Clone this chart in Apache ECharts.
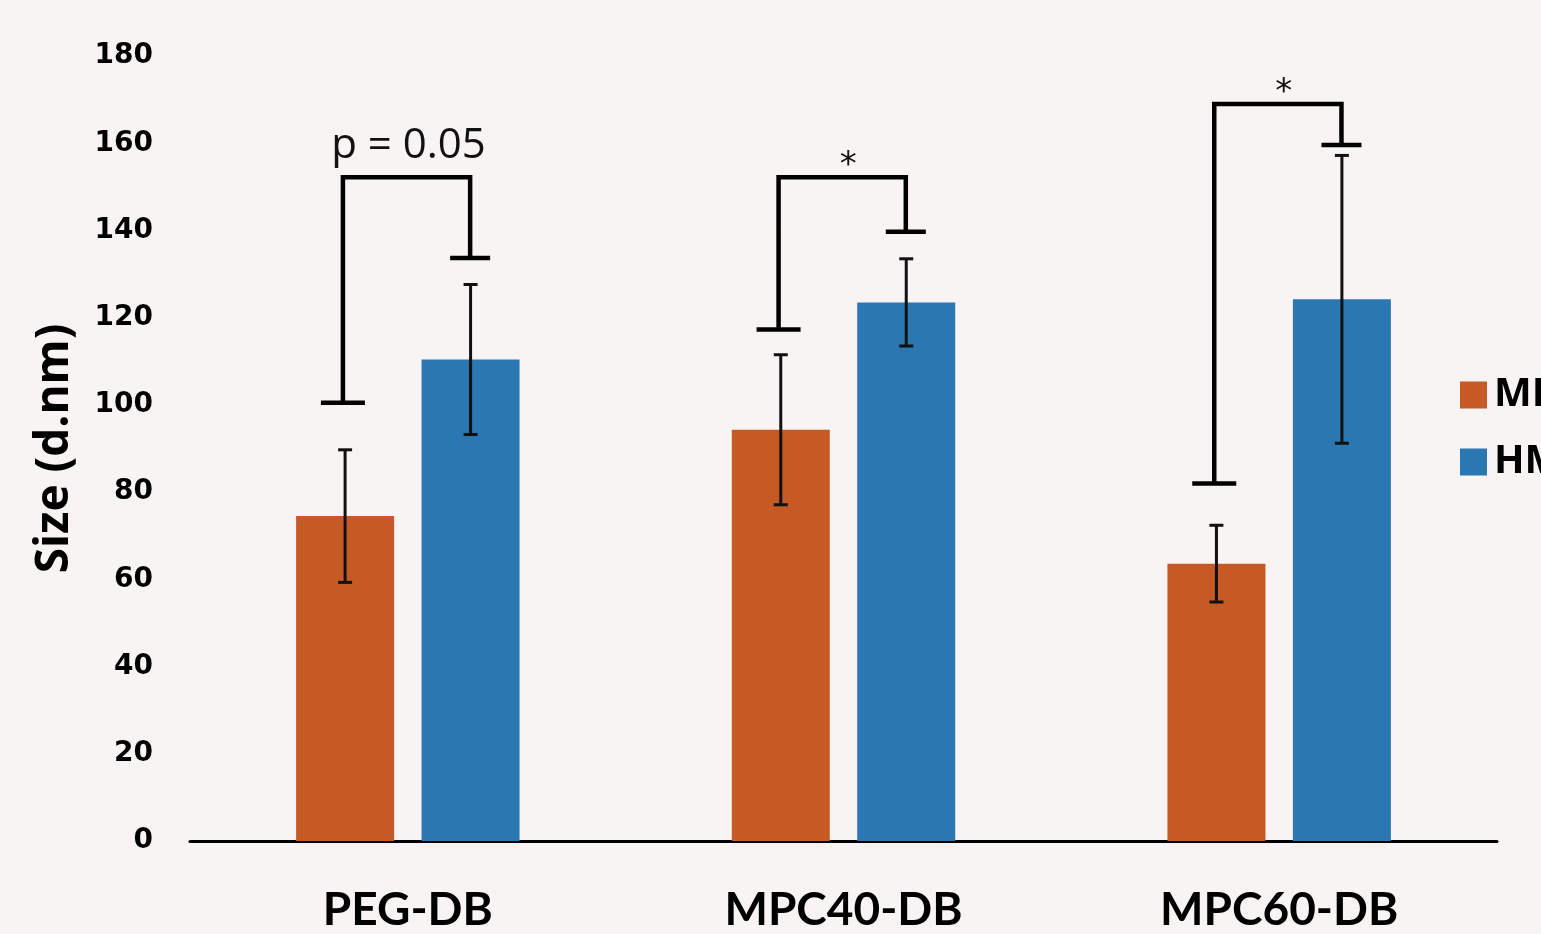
<!DOCTYPE html>
<html>
<head>
<meta charset="utf-8">
<script src="https://cdn.jsdelivr.net/npm/echarts@6/dist/echarts.min.js"></script>
<style>
  html, body { margin: 0; padding: 0; background: #f8f4f3; }
  #chart { width: 1541px; height: 934px; }
</style>
</head>
<body>
<div id="chart"></div>
<script>
// 数据
const categories = ["PEG-DB", "MPC40-DB", "MPC60-DB"]
const seriesNames = ["MEF", "HMEC"]
const orangeMean = [74.5, 94.3, 63.6]
const orangeErr = [15.2, 17.2, 8.8]
const blueMean = [110.4, 123.5, 124.2]
const blueErr = [17.2, 10.0, 33.0]
// 显著性括号: 左端, 顶部, 右端
const bracketLeft = [100.5, 117.3, 82.0]
const bracketTop = [152.2, 152.2, 169.0]
const bracketRight = [133.7, 139.7, 159.6]
const bracketLabels = ["p = 0.05", "*", "*"]
const yTicks = [0, 20, 40, 60, 80, 100, 120, 140, 160, 180]

const myChart = echarts.init(document.getElementById("chart"))

const errData = (means, errs) =>
  means.map((m, i) => [i, m - errs[i], m + errs[i]])

// 误差线
function errorRender(side) {
  return function (params, api) {
    const band = api.size([1, 0])[0]
    const dx = side * band * 0.144
    const lo = api.coord([api.value(0), api.value(1)])
    const hi = api.coord([api.value(0), api.value(2)])
    const x = lo[0] + dx
    const style = { stroke: "#111", lineWidth: 3 }
    return {
      type: "group",
      children: [
        { type: "line", shape: { x1: x, y1: lo[1], x2: x, y2: hi[1] }, style },
        { type: "line", shape: { x1: x - 7, y1: lo[1], x2: x + 7, y2: lo[1] }, style },
        { type: "line", shape: { x1: x - 7, y1: hi[1], x2: x + 7, y2: hi[1] }, style }
      ]
    }
  }
}

// 括号
function bracketRender(params, api) {
  const band = api.size([1, 0])[0]
  const i = api.value(0)
  const pl = api.coord([i, api.value(1)])
  const pt = api.coord([i, api.value(2)])
  const pr = api.coord([i, api.value(3)])
  const xl = pl[0] - band * 0.149
  const xr = pl[0] + band * 0.143
  const style = { stroke: "#000", lineWidth: 4.5, fill: null }
  const label = bracketLabels[params.dataIndex]
  const isStar = label === "*"
  return {
    type: "group",
    children: [
      {
        type: "polyline",
        shape: { points: [[xl, pl[1]], [xl, pt[1]], [xr, pt[1]], [xr, pr[1]]] },
        style
      },
      { type: "line", shape: { x1: xl - 22, y1: pl[1], x2: xl + 22, y2: pl[1] }, style },
      { type: "line", shape: { x1: xr - 20, y1: pr[1], x2: xr + 20, y2: pr[1] }, style },
      {
        type: "text",
        style: {
          text: label,
          x: (xl + xr) / 2 + (isStar ? 6 : 2),
          y: pt[1] - (isStar ? -6 : 10),
          align: "center",
          verticalAlign: "bottom",
          font: isStar ? "34px 'DejaVu Sans'" : "42px 'Open Sans'",
          fill: "#111"
        }
      }
    ]
  }
}

const option = {
  backgroundColor: "#f8f4f3",
  animation: false,
  grid: { left: 190, right: 44, top: 56, bottom: 93 },
  legend: {
    data: seriesNames,
    orient: "vertical",
    left: 1455,
    top: 370,
    itemWidth: 27,
    itemHeight: 27,
    itemGap: 27,
    icon: "rect",
    textStyle: {
      fontFamily: "'Open Sans'",
      fontWeight: "bold",
      fontSize: 40,
      color: "#000",
      padding: [0, 0, 0, 2]
    }
  },
  xAxis: {
    type: "category",
    data: categories,
    axisTick: { show: false },
    axisLine: { lineStyle: { color: "#000", width: 3 } },
    axisLabel: {
      margin: 46,
      fontFamily: "Lato",
      fontWeight: "bold",
      fontSize: 46,
      color: "#000"
    }
  },
  yAxis: {
    type: "value",
    min: yTicks[0],
    max: yTicks[yTicks.length - 1],
    interval: 20,
    name: "Size (d.nm)",
    nameLocation: "middle",
    nameGap: 112,
    nameRotate: 90,
    nameTextStyle: {
      fontFamily: "'Open Sans'",
      fontWeight: "bold",
      fontSize: 46,
      color: "#000"
    },
    axisLine: { show: false },
    axisTick: { show: false },
    splitLine: { show: false },
    axisLabel: {
      margin: 37,
      padding: [6, 0, 0, 0],
      fontFamily: "'DejaVu Sans'",
      fontWeight: "bold",
      fontSize: 28,
      color: "#000"
    }
  },
  series: [
    {
      name: seriesNames[0],
      type: "bar",
      data: orangeMean,
      barWidth: 98,
      barGap: "28%",
      itemStyle: { color: "#c55a24" }
    },
    {
      name: seriesNames[1],
      type: "bar",
      data: blueMean,
      barWidth: 98,
      itemStyle: { color: "#2a77b1" }
    },
    {
      type: "custom",
      renderItem: errorRender(-1),
      data: errData(orangeMean, orangeErr),
      encode: { x: 0, y: [1, 2] },
      z: 5
    },
    {
      type: "custom",
      renderItem: errorRender(1),
      data: errData(blueMean, blueErr),
      encode: { x: 0, y: [1, 2] },
      z: 5
    },
    {
      type: "custom",
      renderItem: bracketRender,
      data: categories.map((c, i) => [i, bracketLeft[i], bracketTop[i], bracketRight[i]]),
      encode: { x: 0, y: [1, 2, 3] },
      z: 6
    }
  ]
}

myChart.setOption(option)
</script>
</body>
</html>
